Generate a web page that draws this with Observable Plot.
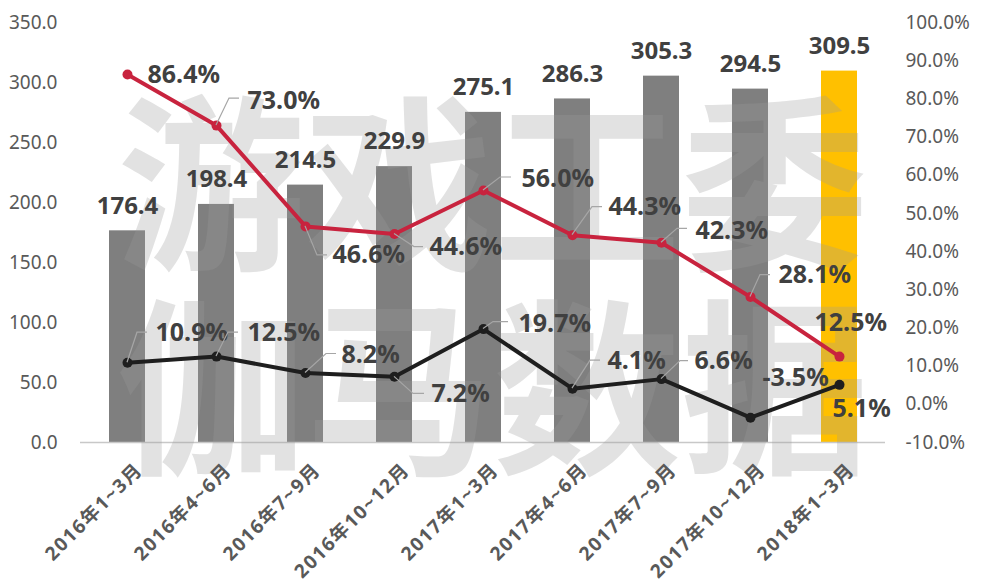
<!DOCTYPE html>
<html><head><meta charset="utf-8">
<script src="https://cdn.jsdelivr.net/npm/d3@7"></script>
<script src="https://cdn.jsdelivr.net/npm/@observablehq/plot@0.6"></script>
<style>body{margin:0;background:#fff;}</style>
</head><body><div id="chart"></div>
<script>
// ---- data ----
const categories = ["2016年1~3月","2016年4~6月","2016年7~9月","2016年10~12月","2017年1~3月","2017年4~6月","2017年7~9月","2017年10~12月","2018年1~3月"];
const revenue = [176.4, 198.4, 214.5, 229.9, 275.1, 286.3, 305.3, 294.5, 309.5];
const yoyGrowth = [86.4, 73.0, 46.6, 44.6, 56.0, 44.3, 42.3, 28.1, 12.5];
const qoqGrowth = [10.9, 12.5, 8.2, 7.2, 19.7, 4.1, 6.6, -3.5, 5.1];
const leftTicks = [0, 50, 100, 150, 200, 250, 300, 350];
const rightTicks = [-10, 0, 10, 20, 30, 40, 50, 60, 70, 80, 90, 100];
const watermark = ["游戏工委", "伽马数据"];

// ---- label layout (pixel offsets from each point) ----
const yoyLabelOffset = [[20,1],[31,-25],[27,29],[35,13],[38,-12],[36,-28],[34,-12],[28,-22],[-25,-34]];
const qoqLabelOffset = [[28,-30],[31,-24],[36,-18],[37,17],[35,-5],[35,-28],[33,-18],[12,-40],[-7,24]];
const yoyLeader = [null,[[13,-27],[23,-27]],[[12,29],[22,29]],[[20,13],[29,13]],[[17,-13],[28,-13]],[[20,-28],[30,-28]],[[16,-14],[26,-14]],[[10,-22],[20,-22]],null];
const qoqLeader = [[[10,-30],[20,-30]],[[12,-24],[22,-24]],[[21,-19],[31,-19]],[[19,17],[30,17]],[[10,-7],[25,-7]],[[18,-28],[28,-28]],[[19,-18],[27,-18]],null,null];

// right axis (percent) mapped onto left scale units
const pctMin = -10, pctMax = 100, leftMax = 350;
const toLeft = p => (p - pctMin) / (pctMax - pctMin) * leftMax;
const fromLeft = v => Math.round((v / leftMax * (pctMax - pctMin) + pctMin) * 10) / 10;

const rows = categories.map((cat, i) => ({cat, revenue: revenue[i], yoy: yoyGrowth[i], qoq: qoqGrowth[i], i}));
const n = rows.length;

const RED = "#c8233e", BLACK = "#1e1e1e", GRAY = "#7f7f7f", GOLD = "#FFC000", LABEL = "#404040";
const numFont = "'Noto Sans', 'Noto Sans CJK SC', sans-serif";

const marks = [
  Plot.barY(rows, {x: "cat", y: "revenue", fill: d => d.i === n - 1 ? GOLD : GRAY}),
  Plot.ruleY([0], {stroke: "#c8c8c8", strokeWidth: 1.5}),
  // watermark
  Plot.text([watermark[0]], {text: d => d, frameAnchor: "top", dx: 10, dy: 172, fontSize: 188, fontWeight: 700,
    fontFamily: "'Noto Sans CJK SC', sans-serif", fill: "#9a9a9a", fillOpacity: 0.29, lineAnchor: "middle"}),
  Plot.text([watermark[1]], {text: d => d, frameAnchor: "top", dx: 10, dy: 376, fontSize: 188, fontWeight: 700,
    fontFamily: "'Noto Sans CJK SC', sans-serif", fill: "#9a9a9a", fillOpacity: 0.29, lineAnchor: "middle"}),
  // axes
  Plot.axisY({ticks: leftTicks, tickFormat: d => d.toFixed(1), tickSize: 0, tickPadding: 23, fontSize: 19, color: "#595959", label: null}),
  Plot.axisY({anchor: "right", ticks: rightTicks.map(toLeft), tickFormat: d => fromLeft(d).toFixed(1) + "%", tickSize: 0, tickPadding: 20, fontSize: 19, color: "#595959", label: null}),
  // category labels
  Plot.text(rows, {x: "cat", text: "cat", frameAnchor: "bottom", rotate: -45, textAnchor: "end", lineAnchor: "middle",
    dx: 12, dy: 24, fontSize: 19, fontWeight: 700, fontFamily: numFont, fill: "#595959"}),
  // bar value labels
  Plot.text(rows, {x: "cat", y: "revenue", text: d => d.revenue.toFixed(1), dy: -25, fontSize: 24, fontWeight: 700, fill: LABEL, fontFamily: numFont}),
  // lines
  Plot.line(rows, {x: "cat", y: d => toLeft(d.yoy), stroke: RED, strokeWidth: 4}),
  Plot.dot(rows, {x: "cat", y: d => toLeft(d.yoy), r: 5, fill: RED}),
  Plot.line(rows, {x: "cat", y: d => toLeft(d.qoq), stroke: BLACK, strokeWidth: 4}),
  Plot.dot(rows, {x: "cat", y: d => toLeft(d.qoq), r: 5, fill: BLACK})
];
rows.forEach((r, i) => {
  marks.push(Plot.text([r], {x: "cat", y: d => toLeft(d.yoy), text: d => d.yoy.toFixed(1) + "%",
    dx: yoyLabelOffset[i][0], dy: yoyLabelOffset[i][1], textAnchor: "start", lineAnchor: "middle",
    fontSize: 25, fontWeight: 700, fill: LABEL, fontFamily: numFont}));
  marks.push(Plot.text([r], {x: "cat", y: d => toLeft(d.qoq), text: d => d.qoq.toFixed(1) + "%",
    dx: qoqLabelOffset[i][0], dy: qoqLabelOffset[i][1], textAnchor: "start", lineAnchor: "middle",
    fontSize: 25, fontWeight: 700, fill: LABEL, fontFamily: numFont}));
});

const chart = Plot.plot({
  width: 984, height: 586,
  marginTop: 22, marginBottom: 144, marginLeft: 80, marginRight: 99,
  x: {domain: categories, paddingInner: 0.6, paddingOuter: 0.3, axis: null},
  y: {domain: [0, 350]},
  style: {fontFamily: numFont, background: "#fff", overflow: "visible"},
  marks
});
document.getElementById("chart").appendChild(chart);

const svg = d3.select(chart);
// widen category labels slightly, as in the reference
svg.selectAll("text").filter(function() { return categories.includes(this.textContent); })
  .attr("letter-spacing", "1.6px");

// leader lines, positioned through the plot's own scales
const sx = chart.scale("x"), sy = chart.scale("y");
function leaders(list, key) {
  rows.forEach((r, i) => {
    const pts = list[i];
    if (!pts) return;
    const px = sx.apply(r.cat) + sx.bandwidth / 2;
    const py = sy.apply(toLeft(r[key]));
    const path = d3.path();
    path.moveTo(px, py);
    pts.forEach(([dx, dy]) => path.lineTo(px + dx, py + dy));
    svg.append("path").attr("d", path.toString()).attr("fill", "none").attr("stroke", "#a6a6a6").attr("stroke-width", 1.2);
  });
}
leaders(yoyLeader, "yoy");
leaders(qoqLeader, "qoq");
</script></body></html>
